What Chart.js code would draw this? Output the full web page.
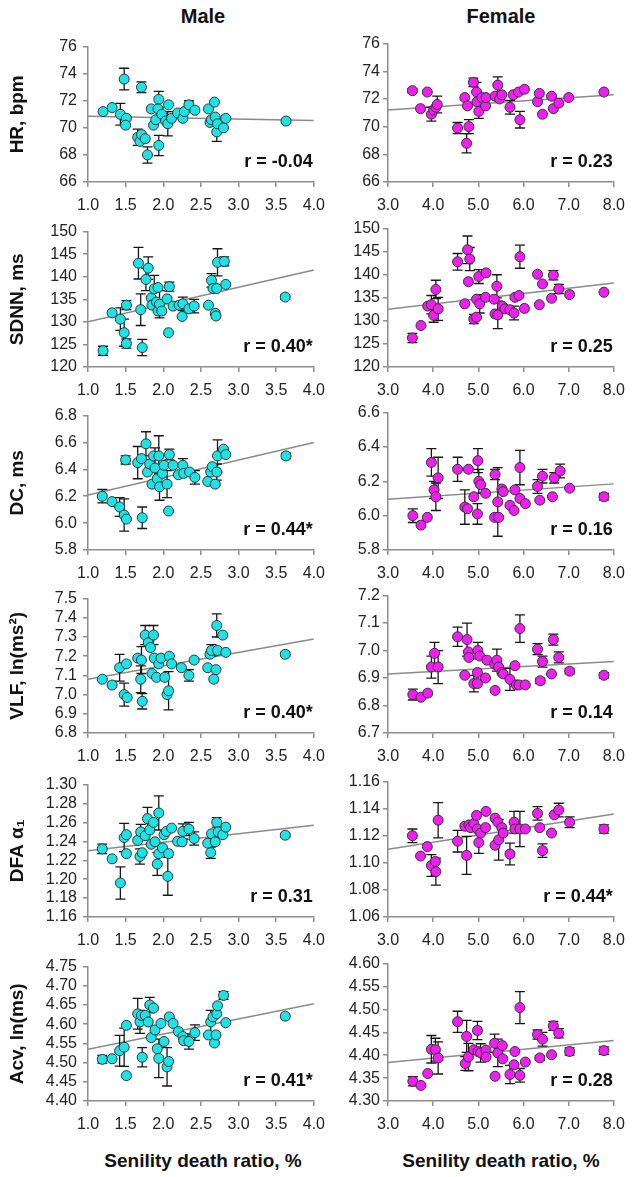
<!DOCTYPE html>
<html>
<head>
<meta charset="utf-8">
<script src="https://cdn.jsdelivr.net/npm/chart.js@4.4.0/dist/chart.umd.min.js"></script>
<style>
  body { margin: 0; background: #fff; width: 634px; height: 1177px; position: relative; overflow: hidden;
         font-family: "Liberation Sans", Arial, sans-serif; }
  canvas { position: absolute; }
  .lbl { position: absolute; font-weight: bold; color: #111; transform: translate(-50%, -50%); white-space: nowrap; }
</style>
</head>
<body>
<div class="lbl" style="left:203px;top:16px;font-size:20px">Male</div>
<div class="lbl" style="left:501px;top:16px;font-size:20px">Female</div>
<div class="lbl" style="left:203px;top:1161px;font-size:19px">Senility death ratio, %</div>
<div class="lbl" style="left:501px;top:1161px;font-size:19px">Senility death ratio, %</div>
<script>
/* ---- data: [senility ratio, mean, error] ---- */
const hrMale = [
  [1.20,71.2,0],[1.32,71.5,0],[1.43,71.0,0.8],[1.48,73.6,0.8],[1.51,70.7,0],[1.50,70.2,0],
  [1.71,73.0,0.4],[1.66,69.3,0.6],[1.69,69.0,0],[1.71,69.5,0],[1.76,69.2,0],[1.79,68.0,0.6],
  [1.84,71.4,0],[1.87,70.2,0],[1.90,70.6,0],[1.94,72.1,0.6],[1.93,71.4,0],[1.94,68.7,0.75],
  [1.98,71.0,0],[2.03,70.5,0],[2.06,70.3,0.9],[2.07,71.7,0],[2.11,70.7,0],[2.19,71.1,0],
  [2.26,70.7,0],[2.28,71.2,0],[2.34,71.7,0.3],[2.42,71.3,0],[2.60,71.4,0],[2.62,70.4,0],
  [2.64,70.6,0],[2.68,71.9,0],[2.69,70.8,0],[2.71,69.7,0.7],[2.72,70.3,0],[2.80,70.0,0],
  [2.83,70.7,0],[3.63,70.5,0]
];
const hrFemale = [
  [3.54,72.6,0.15],[3.72,71.3,0],[3.87,72.5,0],[3.96,70.9,0.5],[4.01,71.2,0],[4.06,71.4,0],[4.09,71.6,0.6],
  [4.54,69.9,0.4],[4.70,72.1,0],[4.76,71.5,0],[4.79,70.0,0.5],[4.74,68.8,0.7],[4.89,73.2,0.3],[4.96,72.5,0.7],
  [4.97,71.8,0],[5.01,71.1,0.5],[5.08,72.1,0],[5.16,71.5,0],[5.17,72.1,0],[5.37,72.2,0],[5.43,73.0,0.6],
  [5.47,72.0,0],[5.52,72.3,0],[5.70,71.4,0.5],[5.77,72.3,0],[5.89,72.5,0],[5.92,70.5,0.6],[6.02,72.7,0],
  [6.31,71.8,0],[6.35,72.4,0],[6.42,70.9,0],[6.62,72.2,0],[6.66,71.3,0],[6.78,71.7,0],[7.00,72.1,0],[7.78,72.5,0]
];
const sdnnMale = [
  [1.20,123.6,1],[1.32,132.0,0],[1.43,130.6,2.5],[1.48,127.6,3],[1.51,133.7,1],[1.51,125.2,1],
  [1.67,143.0,3.5],[1.70,132.7,3.5],[1.72,124.3,1.8],[1.80,141.9,2.5],[1.77,139.4,2.5],[1.84,135.3,0],
  [1.85,133.7,0],[1.88,137.3,3],[1.93,137.6,0],[1.91,134.4,0],[1.93,132.4,0],[1.95,133.9,3],
  [1.98,132.4,0],[2.05,135.1,0],[2.07,127.6,0],[2.08,137.8,1],[2.13,133.5,0],[2.21,133.7,0],
  [2.25,131.2,0],[2.26,134.0,1.5],[2.34,132.9,0],[2.41,133.5,1.5],[2.60,133.7,0],[2.64,139.2,1.5],
  [2.66,137.4,0],[2.69,131.9,0],[2.70,131.3,0],[2.71,137.4,0],[2.72,143.2,3],[2.81,143.4,1],
  [2.83,138.3,0],[3.62,135.5,0.5]
];
const sdnnFemale = [
  [3.54,126.3,1],[3.73,129.0,0],[3.88,133.2,0],[3.96,133.5,2],[4.01,131.2,1.5],[4.06,136.8,2],[4.11,132.6,2.5],
  [4.54,142.8,1.8],[4.70,133.7,0],[4.76,145.4,3],[4.81,143.4,2.5],[4.78,138.5,0],[4.90,130.4,1],[4.96,130.8,0],
  [4.96,134.7,0],[5.01,139.6,1.5],[5.03,133.7,2],[5.17,140.4,0],[5.16,135.1,0],[5.35,134.7,0],[5.41,137.5,2.5],
  [5.37,131.5,0],[5.43,131.3,3],[5.53,133.2,0],[5.59,132.6,0],[5.70,132.4,0],[5.79,131.7,1.5],[5.81,135.1,0],
  [5.90,135.5,0],[5.92,143.9,2.5],[6.02,132.7,0],[6.31,140.1,0],[6.35,133.5,0],[6.42,138.0,0],[6.62,134.9,0],
  [6.66,139.9,1],[6.78,136.9,1],[7.02,135.7,0],[7.78,136.2,0]
];
const dcMale = [
  [1.19,6.20,0.05],[1.32,6.16,0],[1.42,6.12,0.07],[1.48,6.06,0.12],[1.51,6.03,0],[1.50,6.47,0.03],
  [1.66,6.45,0.12],[1.71,6.48,0],[1.72,6.04,0.08],[1.77,6.59,0.09],[1.79,6.38,0],[1.82,6.44,0],
  [1.85,6.29,0],[1.87,6.50,0],[1.89,6.41,0.15],[1.92,6.33,0],[1.94,6.50,0.15],[1.95,6.27,0.1],
  [1.99,6.37,0],[2.01,6.43,0],[2.05,6.29,0.1],[2.07,6.09,0],[2.08,6.51,0.04],[2.13,6.43,0],
  [2.20,6.36,0],[2.26,6.43,0.05],[2.27,6.37,0],[2.35,6.38,0],[2.42,6.34,0.05],[2.59,6.31,0],
  [2.63,6.38,0],[2.65,6.42,0],[2.69,6.29,0],[2.71,6.38,0.06],[2.72,6.50,0.12],[2.80,6.55,0],
  [2.83,6.51,0],[3.63,6.50,0.02]
];
const dcFemale = [
  [3.55,6.00,0.04],[3.73,5.945,0],[3.87,5.99,0],[3.96,6.31,0.08],[4.02,6.15,0.05],[4.06,6.11,0.08],[4.11,6.22,0.12],
  [4.54,6.27,0.07],[4.70,6.05,0.1],[4.76,6.04,0],[4.78,6.27,0],[4.90,6.11,0],[4.98,6.01,0.06],[4.99,6.32,0.07],
  [5.01,6.20,0.07],[5.05,6.18,0],[5.16,6.13,0],[5.37,6.24,0.03],[5.36,5.99,0],[5.43,6.08,0.2],[5.45,5.99,0],
  [5.52,6.155,0],[5.55,6.14,0],[5.70,6.06,0],[5.79,6.03,0],[5.81,6.15,0],[5.92,6.28,0.1],[5.92,6.10,0],
  [6.04,6.07,0],[6.31,6.17,0.04],[6.36,6.09,0],[6.42,6.23,0.04],[6.64,6.11,0],[6.68,6.22,0.03],[6.81,6.26,0.04],
  [7.02,6.16,0],[7.78,6.11,0.02]
];
const vlfMale = [
  [1.19,7.08,0],[1.32,7.05,0],[1.42,7.14,0.07],[1.48,7.00,0.06],[1.51,7.16,0],[1.52,6.985,0],
  [1.66,7.19,0],[1.70,7.08,0.07],[1.71,7.18,0.07],[1.72,6.965,0.04],[1.76,7.31,0.05],[1.80,7.27,0],
  [1.83,7.245,0],[1.87,7.31,0.05],[1.85,7.11,0],[1.88,7.19,0],[1.91,7.09,0],[1.94,7.16,0],
  [1.97,7.19,0],[2.02,7.09,0],[2.05,7.00,0],[2.07,7.02,0.1],[2.08,7.20,0],[2.11,7.16,0],
  [2.24,7.14,0],[2.34,7.10,0.03],[2.41,7.18,0],[2.59,7.14,0],[2.62,7.21,0],[2.64,7.23,0.03],
  [2.67,7.08,0],[2.70,7.13,0],[2.71,7.36,0.06],[2.72,7.23,0],[2.79,7.31,0],[2.83,7.22,0],[3.62,7.21,0.01]
];
const vlfFemale = [
  [3.55,6.84,0.02],[3.73,6.83,0],[3.88,6.845,0],[3.96,6.94,0.04],[4.03,6.99,0.04],[4.11,6.94,0.06],
  [4.54,7.05,0.035],[4.70,6.91,0],[4.75,7.04,0.06],[4.78,6.995,0],[4.79,6.975,0],[4.90,6.88,0.03],
  [4.98,6.88,0],[4.98,6.92,0],[4.99,7.00,0.03],[5.03,6.98,0],[5.16,6.90,0],[5.19,6.965,0],
  [5.36,6.95,0],[5.37,6.855,0],[5.41,6.965,0.04],[5.45,6.94,0],[5.52,6.92,0],[5.55,6.915,0],
  [5.70,6.895,0.04],[5.81,6.945,0],[5.84,6.875,0],[5.92,7.08,0.05],[5.90,6.875,0],[6.04,6.875,0],
  [6.31,7.005,0.02],[6.37,6.89,0.01],[6.42,6.96,0.02],[6.62,6.915,0],[6.66,7.04,0.02],[6.78,6.975,0.02],
  [7.02,6.925,0.01],[7.78,6.91,0.01]
];
const dfaMale = [
  [1.19,1.232,0.005],[1.32,1.2215,0],[1.43,1.196,0.017],[1.48,1.244,0.015],[1.51,1.247,0],[1.51,1.227,0],
  [1.66,1.241,0],[1.69,1.224,0.008],[1.70,1.250,0.008],[1.72,1.228,0],[1.76,1.246,0],[1.79,1.264,0.012],
  [1.82,1.252,0],[1.84,1.237,0],[1.87,1.260,0],[1.89,1.2395,0],[1.92,1.216,0.012],[1.94,1.270,0.018],
  [1.94,1.227,0],[1.99,1.233,0],[2.01,1.247,0],[2.04,1.2505,0],[2.06,1.203,0.02],[2.07,1.227,0],
  [2.11,1.254,0],[2.19,1.240,0],[2.25,1.2395,0],[2.26,1.2505,0.008],[2.34,1.253,0.007],[2.41,1.243,0.007],
  [2.59,1.238,0],[2.63,1.228,0.006],[2.64,1.248,0],[2.69,1.2395,0],[2.71,1.260,0.005],[2.73,1.250,0],
  [2.79,1.247,0],[2.83,1.255,0],[3.62,1.2465,0.002]
];
const dfaFemale = [
  [3.54,1.120,0.005],[3.72,1.105,0],[3.87,1.112,0],[3.96,1.098,0.008],[4.05,1.101,0],[4.06,1.0935,0.01],[4.11,1.1315,0.013],
  [4.54,1.116,0.008],[4.70,1.127,0],[4.74,1.1055,0.014],[4.79,1.128,0],[4.83,1.126,0],[4.90,1.129,0],[4.96,1.135,0],
  [4.98,1.125,0],[5.01,1.115,0.008],[5.05,1.122,0],[5.17,1.138,0],[5.16,1.126,0],[5.37,1.133,0],[5.37,1.113,0],
  [5.43,1.130,0],[5.45,1.117,0.015],[5.52,1.126,0],[5.55,1.122,0],[5.70,1.1065,0.008],[5.79,1.130,0.008],[5.81,1.125,0],
  [5.92,1.125,0.013],[6.04,1.125,0],[6.31,1.1365,0.005],[6.36,1.126,0],[6.42,1.109,0.005],[6.62,1.122,0],
  [6.68,1.1355,0],[6.78,1.139,0.005],[7.02,1.130,0.004],[7.78,1.125,0.003]
];
const acvMale = [
  [1.19,4.5085,0.01],[1.32,4.51,0],[1.42,4.531,0.04],[1.48,4.54,0.05],[1.51,4.597,0],[1.51,4.466,0],
  [1.66,4.627,0.04],[1.69,4.606,0.03],[1.71,4.623,0],[1.72,4.514,0.025],[1.76,4.623,0],[1.80,4.606,0],
  [1.82,4.650,0.02],[1.84,4.565,0],[1.87,4.642,0],[1.89,4.585,0],[1.92,4.536,0],[1.94,4.511,0.05],
  [1.97,4.602,0],[2.01,4.555,0],[2.05,4.489,0.05],[2.07,4.503,0],[2.08,4.619,0],[2.13,4.602,0],
  [2.20,4.581,0],[2.26,4.568,0],[2.27,4.557,0],[2.34,4.555,0.02],[2.42,4.578,0.02],[2.60,4.572,0],
  [2.63,4.606,0.03],[2.66,4.619,0],[2.68,4.551,0],[2.70,4.572,0],[2.71,4.627,0],[2.72,4.648,0],
  [2.80,4.675,0.01],[2.83,4.604,0],[3.62,4.621,0]
];
const acvFemale = [
  [3.55,4.343,0.01],[3.73,4.334,0],[3.88,4.36,0],[3.96,4.413,0.03],[4.05,4.412,0.025],[4.11,4.394,0.035],
  [4.54,4.473,0.023],[4.71,4.382,0.015],[4.74,4.441,0.035],[4.78,4.396,0.03],[4.90,4.412,0],[4.98,4.454,0.02],
  [4.99,4.408,0],[5.05,4.405,0.02],[5.17,4.411,0],[5.17,4.396,0],[5.36,4.426,0.02],[5.37,4.354,0],
  [5.43,4.405,0.03],[5.53,4.421,0],[5.54,4.392,0],[5.70,4.358,0.02],[5.79,4.379,0],[5.81,4.408,0],
  [5.92,4.504,0.035],[5.92,4.356,0.015],[6.04,4.385,0],[6.31,4.445,0.01],[6.36,4.394,0.005],[6.42,4.435,0.015],
  [6.62,4.401,0],[6.66,4.464,0.01],[6.78,4.448,0.01],[7.02,4.408,0.008],[7.78,4.41,0.008]
];

// trend line values at the two ends of the x axis
const hrMaleFit = [70.85, 70.55],  hrFemaleFit = [71.2, 72.3];
const sdnnMaleFit = [130.0, 141.5], sdnnFemaleFit = [132.5, 138.2];
const dcMaleFit = [6.21, 6.60],    dcFemaleFit = [6.095, 6.185];
const vlfMaleFit = [7.08, 7.29],   vlfFemaleFit = [6.915, 6.96];
const dfaMaleFit = [1.230, 1.257], dfaFemaleFit = [1.110, 1.136];
const acvMaleFit = [4.535, 4.653], acvFemaleFit = [4.384, 4.432];

const rMale   = ['r = -0.04', 'r = 0.40*', 'r = 0.44*', 'r = 0.40*', 'r = 0.31', 'r = 0.41*'];
const rFemale = ['r = 0.23', 'r = 0.25', 'r = 0.16', 'r = 0.14', 'r = 0.44*', 'r = 0.28'];
const yTitles = ['HR, bpm', 'SDNN, ms', 'DC, ms', 'VLF, ln(ms\u00B2)', 'DFA \u03B1\u2081', 'Acv, ln(ms)'];

// axis [min, max, step, decimals]
const maleXAxis = [1, 4, 0.5, 1], femaleXAxis = [3, 8, 1, 1];
const maleYAxes = [[66,76,2,0],[120,150,5,0],[5.8,6.8,0.2,1],[6.8,7.5,0.1,1],[1.16,1.30,0.02,2],[4.40,4.75,0.05,2]];
const femaleYAxes = [[66,76,2,0],[120,150,5,0],[5.8,6.6,0.2,1],[6.7,7.2,0.1,1],[1.06,1.16,0.02,2],[4.30,4.60,0.05,2]];

const maleSets = [hrMale, sdnnMale, dcMale, vlfMale, dfaMale, acvMale];
const femaleSets = [hrFemale, sdnnFemale, dcFemale, vlfFemale, dfaFemale, acvFemale];
const maleFits = [hrMaleFit, sdnnMaleFit, dcMaleFit, vlfMaleFit, dfaMaleFit, acvMaleFit];
const femaleFits = [hrFemaleFit, sdnnFemaleFit, dcFemaleFit, vlfFemaleFit, dfaFemaleFit, acvFemaleFit];

const rowTops = [43, 228, 412, 595, 781, 963];
const rowHeights = [139, 139, 138, 138, 136, 138];

const FONT = '"Liberation Sans", Arial, sans-serif';
const AXIS_COLOR = '#8c8c8c';

const errBars = {
  id: 'errBars',
  beforeDatasetDraw(chart, args) {
    if (args.index !== 0) return;
    const { ctx, scales: { x, y } } = chart;
    ctx.save();
    ctx.strokeStyle = '#161616';
    ctx.lineWidth = 1.3;
    chart.data.datasets[0].data.forEach(p => {
      if (!p.e) return;
      const px = x.getPixelForValue(p.x);
      const top = y.getPixelForValue(p.y + p.e);
      const bot = y.getPixelForValue(p.y - p.e);
      ctx.beginPath();
      ctx.moveTo(px, top); ctx.lineTo(px, bot);
      ctx.moveTo(px - 5, top); ctx.lineTo(px + 5, top);
      ctx.moveTo(px - 5, bot); ctx.lineTo(px + 5, bot);
      ctx.stroke();
    });
    ctx.restore();
  }
};

const rLabel = {
  id: 'rLabel',
  afterDatasetsDraw(chart, args, opts) {
    const { ctx, chartArea } = chart;
    ctx.save();
    ctx.font = 'bold 18px ' + FONT;
    ctx.fillStyle = '#111';
    ctx.textAlign = 'right';
    ctx.textBaseline = 'middle';
    ctx.fillText(opts.text, chartArea.right - 1, chartArea.bottom - 20);
    ctx.restore();
  }
};

function fixedTicks(ax) {
  return s => {
    const n = Math.round((ax[1] - ax[0]) / ax[2]);
    s.ticks = [];
    for (let i = 0; i <= n; i++) s.ticks.push({ value: +(ax[0] + i * ax[2]).toFixed(4) });
  };
}

function makePanel(row, isMale) {
  const set = isMale ? maleSets[row] : femaleSets[row];
  const fit = isMale ? maleFits[row] : femaleFits[row];
  const xa = isMale ? maleXAxis : femaleXAxis;
  const ya = isMale ? maleYAxes[row] : femaleYAxes[row];
  const yw = isMale ? 88 : 58;
  const plotW = isMale ? 231 : 230;
  const cw = isMale ? 334 : 304;
  const ph = rowHeights[row];

  const canvas = document.createElement('canvas');
  canvas.width = cw;
  canvas.height = 12 + ph + 34;
  canvas.style.left = (isMale ? 0 : 330) + 'px';
  canvas.style.top = (rowTops[row] - 12) + 'px';
  document.body.appendChild(canvas);

  new Chart(canvas, {
    type: 'scatter',
    data: {
      datasets: [{
        data: set.map(d => ({ x: d[0], y: d[1], e: d[2] })),
        backgroundColor: isMale ? '#1ee3e6' : '#f01ef0',
        borderColor: '#333',
        borderWidth: 1,
        pointRadius: 5,
        pointHoverRadius: 5
      }, {
        type: 'line',
        data: [{ x: xa[0], y: fit[0] }, { x: xa[1], y: fit[1] }],
        borderColor: '#8a8a8a',
        borderWidth: 1.5,
        pointRadius: 0,
        fill: false
      }]
    },
    options: {
      responsive: false,
      animation: false,
      devicePixelRatio: 1,
      layout: { padding: { top: 12, right: cw - yw - plotW, left: 0, bottom: 0 } },
      plugins: {
        legend: { display: false },
        tooltip: { enabled: false },
        rLabel: { text: isMale ? rMale[row] : rFemale[row] }
      },
      scales: {
        x: {
          type: 'linear', min: xa[0], max: xa[1],
          afterBuildTicks: fixedTicks(xa),
          afterFit: s => { s.height = 34; },
          grid: { drawOnChartArea: false, drawTicks: true, tickLength: 5, color: AXIS_COLOR, lineWidth: 1.5 },
          border: { color: AXIS_COLOR, width: 1.5 },
          ticks: { color: '#222', font: { family: FONT, size: 16 }, padding: 9, maxRotation: 0, autoSkip: false,
                   callback: v => Number(v).toFixed(xa[3]) }
        },
        y: {
          type: 'linear', min: ya[0], max: ya[1],
          afterBuildTicks: fixedTicks(ya),
          afterFit: s => { s.width = yw; },
          grid: { drawOnChartArea: false, drawTicks: true, tickLength: 5, color: AXIS_COLOR, lineWidth: 1.5 },
          border: { color: AXIS_COLOR, width: 1.5 },
          ticks: { color: '#222', font: { family: FONT, size: 16 }, padding: isMale ? 6 : 3, autoSkip: false,
                   callback: v => Number(v).toFixed(ya[3]) },
          title: {
            display: isMale, text: yTitles[row], color: '#111',
            font: { family: FONT, size: 19, weight: 'bold' }, padding: { top: 6, bottom: 0 }
          }
        }
      }
    },
    plugins: [errBars, rLabel]
  });
}

for (let r = 0; r < 6; r++) {
  makePanel(r, true);
  makePanel(r, false);
}
</script>
</body>
</html>
